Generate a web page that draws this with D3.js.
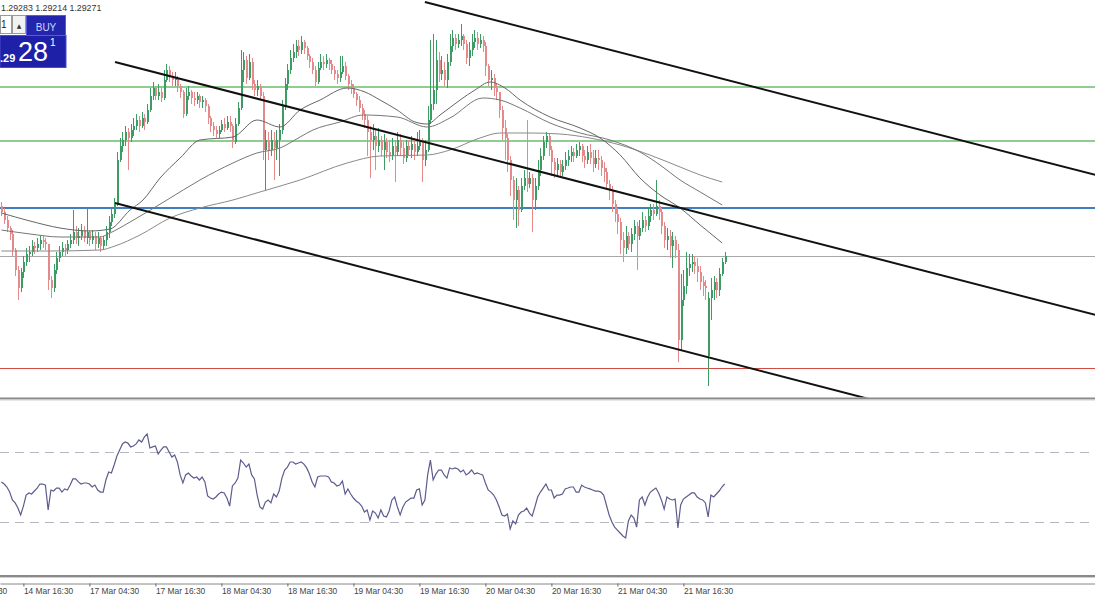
<!DOCTYPE html>
<html><head><meta charset="utf-8">
<script src="https://cdn.jsdelivr.net/npm/d3@7"></script>
<style>body{margin:0;background:#fff;}svg{display:block;}</style>
</head><body>
<svg id="c" width="1095" height="600"></svg>
<script>
// ---- data ----
const quote = ["1.29283", "1.29214", "1.29271"];
const firstOpen = 1.2957;
const openOverrides = [[257, 1.2882]];
const closes = [
1.2954,1.2950,1.2946,1.2943,1.2935,1.2925,1.2916,1.2924,1.2929,1.2933,
1.2934,1.2937,1.2936,1.2938,1.2940,1.2939,1.2938,1.2920,1.2916,1.2925,
1.2931,1.2934,1.2936,1.2935,1.2938,1.2940,1.2944,1.2941,1.2942,1.2945,
1.2941,1.2944,1.2940,1.2942,1.2938,1.2941,1.2937,1.2940,1.2944,1.2949,
1.2953,1.2958,1.2980,1.2987,1.2990,1.2994,1.2991,1.2995,1.2997,1.3000,
1.2997,1.3001,1.2999,1.3005,1.3012,1.3016,1.3012,1.3014,1.3011,1.3020,
1.3025,1.3022,1.3020,1.3021,1.3017,1.3014,1.3003,1.3012,1.3014,1.3011,
1.3010,1.3012,1.3009,1.3010,1.3007,1.3001,1.2997,1.2995,1.2993,1.2995,
1.2998,1.2996,1.2999,1.2997,1.2989,1.2998,1.3006,1.3025,1.3030,1.3021,
1.3029,1.3018,1.3015,1.3017,1.3012,1.2985,1.2990,1.2985,1.2990,1.2986,
1.2990,1.2995,1.3007,1.3018,1.3025,1.3031,1.3034,1.3037,1.3035,1.3039,
1.3036,1.3032,1.3029,1.3025,1.3019,1.3026,1.3029,1.3028,1.3030,1.3028,
1.3025,1.3023,1.3021,1.3024,1.3027,1.3022,1.3018,1.3016,1.3013,1.3010,
1.3006,1.3003,1.3000,1.2994,1.2990,1.2992,1.2987,1.2990,1.2985,1.2989,
1.2984,1.2982,1.2987,1.2984,1.2990,1.2986,1.2981,1.2987,1.2985,1.2988,
1.2984,1.2987,1.2990,1.2980,1.2985,1.3000,1.3008,1.3015,1.3030,1.3023,
1.3025,1.3020,1.3029,1.3037,1.3041,1.3038,1.3040,1.3042,1.3038,1.3031,
1.3035,1.3039,1.3041,1.3038,1.3040,1.3037,1.3027,1.3020,1.3021,1.3016,
1.3014,1.3005,1.2996,1.2991,1.2980,1.2970,1.2960,1.2965,1.2955,1.2967,
1.2971,1.2968,1.2971,1.2960,1.2967,1.2975,1.2982,1.2989,1.2992,1.2985,
1.2979,1.2975,1.2978,1.2974,1.2977,1.2980,1.2982,1.2984,1.2982,1.2985,
1.2987,1.2982,1.2980,1.2984,1.2981,1.2978,1.2981,1.2980,1.2976,1.2974,
1.2968,1.2965,1.2958,1.2953,1.2949,1.2940,1.2936,1.2942,1.2938,1.2943,
1.2947,1.2942,1.2946,1.2950,1.2947,1.2952,1.2955,1.2953,1.2957,1.2954,
1.2947,1.2940,1.2942,1.2937,1.2940,1.2935,1.2890,1.2910,1.2917,1.2926,
1.2928,1.2929,1.2927,1.2924,1.2919,1.2917,1.2916,1.2911,1.2915,1.2919,
1.2915,1.2923,1.2929,1.2932];
const highs = [
1.2959,1.2956,1.2952,1.2947,1.2945,1.2936,1.2927,1.2926,1.2932,1.2936,
1.2937,1.2940,1.2939,1.2941,1.2942,1.2942,1.2941,1.2938,1.2922,1.2928,
1.2934,1.2937,1.2939,1.2938,1.2940,1.2943,1.2955,1.2947,1.2946,1.2948,
1.2947,1.2956,1.2945,1.2945,1.2944,1.2944,1.2942,1.2942,1.2947,1.2952,
1.2956,1.2961,1.2984,1.2991,1.2994,1.2997,1.2996,1.2998,1.3001,1.3003,
1.3002,1.3004,1.3003,1.3008,1.3016,1.3019,1.3017,1.3018,1.3017,1.3025,
1.3028,1.3027,1.3024,1.3024,1.3022,1.3018,1.3015,1.3016,1.3017,1.3015,
1.3014,1.3014,1.3013,1.3012,1.3011,1.3008,1.3002,1.2999,1.2997,1.2997,
1.3000,1.3001,1.3002,1.3002,1.2998,1.3001,1.3009,1.3035,1.3034,1.3032,
1.3033,1.3031,1.3020,1.3020,1.3018,1.3014,1.2995,1.2994,1.2995,1.2994,
1.2995,1.2998,1.3010,1.3021,1.3028,1.3035,1.3038,1.3040,1.3040,1.3042,
1.3040,1.3037,1.3033,1.3031,1.3027,1.3029,1.3033,1.3032,1.3033,1.3031,
1.3030,1.3027,1.3025,1.3032,1.3032,1.3029,1.3023,1.3020,1.3018,1.3014,
1.3012,1.3008,1.3005,1.3002,1.2997,1.2998,1.2995,1.2996,1.2992,1.2993,
1.2991,1.2990,1.2991,1.2990,1.2994,1.2993,1.2989,1.2990,1.2990,1.2992,
1.2991,1.2994,1.2995,1.2991,1.2990,1.3007,1.3040,1.3043,1.3040,1.3034,
1.3032,1.3029,1.3033,1.3043,1.3045,1.3043,1.3043,1.3048,1.3043,1.3040,
1.3039,1.3043,1.3045,1.3044,1.3043,1.3042,1.3039,1.3028,1.3025,1.3023,
1.3018,1.3014,1.3007,1.3000,1.2993,1.2982,1.2972,1.2971,1.2967,1.2971,
1.2975,1.3000,1.2974,1.2973,1.2971,1.2980,1.2986,1.2992,1.2994,1.2993,
1.2987,1.2981,1.2981,1.2980,1.2980,1.2984,1.2985,1.2987,1.2986,1.2988,
1.2989,1.2988,1.2985,1.2987,1.2988,1.2985,1.2985,1.2985,1.2982,1.2979,
1.2976,1.2970,1.2967,1.2960,1.2956,1.2951,1.2944,1.2947,1.2944,1.2946,
1.2950,1.2949,1.2950,1.2954,1.2952,1.2956,1.2958,1.2958,1.2970,1.2960,
1.2956,1.2949,1.2946,1.2945,1.2944,1.2942,1.2938,1.2923,1.2925,1.2934,
1.2933,1.2933,1.2932,1.2931,1.2927,1.2922,1.2920,1.2914,1.2921,1.2922,
1.2921,1.2926,1.2931,1.2934];
const lows = [
1.2952,1.2948,1.2944,1.2940,1.2932,1.2922,1.2910,1.2914,1.2921,1.2927,
1.2929,1.2932,1.2933,1.2934,1.2935,1.2936,1.2935,1.2915,1.2911,1.2914,
1.2923,1.2929,1.2932,1.2932,1.2933,1.2936,1.2938,1.2938,1.2937,1.2940,
1.2939,1.2938,1.2937,1.2938,1.2935,1.2936,1.2934,1.2935,1.2937,1.2941,
1.2947,1.2951,1.2957,1.2979,1.2984,1.2987,1.2975,1.2989,1.2992,1.2995,
1.2994,1.2996,1.2995,1.2998,1.3004,1.3010,1.3010,1.3010,1.3009,1.3010,
1.3019,1.3019,1.3017,1.3017,1.3014,1.3011,1.3001,1.3002,1.3010,1.3008,
1.3007,1.3008,1.3006,1.3006,1.3004,1.2998,1.2994,1.2992,1.2991,1.2991,
1.2994,1.2994,1.2995,1.2994,1.2986,1.2988,1.2997,1.3005,1.3019,1.3018,
1.3020,1.3015,1.3012,1.3012,1.3010,1.2980,1.2965,1.2980,1.2982,1.2970,
1.2980,1.2972,1.2993,1.3005,1.3015,1.3023,1.3029,1.3031,1.3032,1.3033,
1.3033,1.3030,1.3026,1.3023,1.3017,1.3018,1.3025,1.3025,1.3026,1.3025,
1.3023,1.3020,1.3018,1.3019,1.3023,1.3020,1.3015,1.3013,1.3011,1.3007,
1.3004,1.3000,1.2996,1.2982,1.2971,1.2985,1.2975,1.2984,1.2982,1.2975,
1.2981,1.2979,1.2980,1.2969,1.2982,1.2982,1.2978,1.2979,1.2982,1.2981,
1.2980,1.2982,1.2985,1.2969,1.2977,1.2984,1.2998,1.3005,1.3008,1.3019,
1.3020,1.3017,1.3016,1.3027,1.3034,1.3035,1.3036,1.3037,1.3035,1.3028,
1.3027,1.3032,1.3036,1.3035,1.3036,1.3034,1.3022,1.3017,1.3015,1.3012,
1.3010,1.3001,1.2990,1.2980,1.2974,1.2962,1.2950,1.2946,1.2947,1.2954,
1.2965,1.2964,1.2966,1.2944,1.2955,1.2965,1.2972,1.2980,1.2986,1.2982,
1.2972,1.2971,1.2972,1.2971,1.2972,1.2975,1.2977,1.2979,1.2979,1.2981,
1.2982,1.2979,1.2976,1.2978,1.2978,1.2974,1.2976,1.2975,1.2972,1.2969,
1.2965,1.2960,1.2954,1.2949,1.2943,1.2933,1.2929,1.2933,1.2935,1.2934,
1.2940,1.2925,1.2940,1.2944,1.2944,1.2945,1.2949,1.2950,1.2952,1.2950,
1.2943,1.2936,1.2935,1.2931,1.2926,1.2931,1.2879,1.2885,1.2907,1.2913,
1.2922,1.2924,1.2923,1.2919,1.2915,1.2912,1.2910,1.2867,1.2900,1.2910,
1.2911,1.2912,1.2922,1.2928];
const rsiValues = [
52.9,51.7,50,47.1,42.6,40.9,38,34,39.1,45.4,
46.6,46,47.7,49.4,51.7,51.7,51.1,36.9,48.3,47.7,
49.4,49.4,47.1,48.9,48.3,51.1,54.6,54.6,52.9,51.7,
52.3,52.3,51.7,50,51.1,48.3,47.1,47.1,54,58.6,
58,62.6,67.7,71.1,74.6,75.7,75.1,72.9,73.4,74.6,
76.9,75.7,78.6,80.3,72.3,72.9,73.4,68.9,71.1,72.9,
72.9,70,67.1,68.3,64.3,56.9,52.3,56.9,58,56.3,
55.1,55.7,54,55.7,52.9,44.9,43.7,43.1,44.3,46,
47.1,46.6,43.7,39.1,50.6,52.3,55.1,65.4,63.7,61.4,
63.1,56.9,54.6,45.4,38.6,37.4,41.4,42.6,40.9,46,
44.3,47.7,55.1,59.7,61.4,64.3,64.3,63.1,63.7,64.3,
63.1,60.9,57.4,52.9,50,55.7,56.3,56.3,56.3,55.7,
52.9,52.3,50.6,51.1,53.4,46,48.9,46,43.7,42,
40.9,39.1,35.7,36.9,31.1,36.3,35.1,32.3,36.9,33.4,
32.9,36.3,42.6,44.3,38.6,34,38.6,41.4,42.6,43.7,
43.7,48.3,48.9,39.7,42.6,56.9,65.4,54,57.4,59.7,
59.7,56.9,55.1,60.9,60.3,60.9,60.3,58.6,59.7,56.9,
58,59.7,57.4,58,57.4,56.9,52.3,48.3,47.1,45.4,
42.6,38.6,34,33.4,34.6,26,30.6,28.9,34,35.7,
36.3,38,35.1,33.4,38.6,44.3,47.1,49.4,51.7,48.3,
48.3,43.7,45.4,45.4,46,48.9,49.4,50,50,47.1,
47.1,51.1,50,49.4,48.9,48.3,47.7,47.7,47.1,45.4,
39.7,34,30,27.1,25.4,23.7,22,20.9,30.6,34,
32.3,27.1,42.6,44.3,39.7,44.3,47.1,48.3,49.4,46.6,
42.6,37.4,44.3,43.1,42.6,43.1,26.6,39.7,43.1,44.3,
45.4,46.6,46.6,44.3,43.1,42.6,40.9,32.9,45.4,44.3,
46,47.7,50,51.7];
const rsiLevels = [70, 30];
// moving averages: [bar index, price]
const maFast = [[0,1.29535],[10.4,1.29495],[21.3,1.2946],[32.2,1.29445],[39.5,1.29455],[46.8,1.2955],[51.5,1.2960],[57.7,1.2971],[65,1.2981],[72.2,1.2990],[84.2,1.29915],[92.9,1.3000],[101.3,1.29965],[108.6,1.3005],[115.9,1.3010],[125.7,1.3016],[132.2,1.3014],[137.7,1.3010],[143.9,1.3005],[150.4,1.2999],[154.8,1.2998],[159.5,1.30025],[166.8,1.3010],[172.2,1.3015],[177.7,1.3019],[183.1,1.3016],[188.6,1.3010],[199.5,1.30015],[210.4,1.2996],[217.7,1.2991],[225,1.29825],[232.2,1.2971],[239.5,1.29625],[246.8,1.2956],[254.1,1.29475],[262.1,1.29385]];
const maMid = [[0,1.2945],[10.4,1.2943],[21.3,1.29415],[35.9,1.29415],[39.5,1.29435],[46.8,1.2949],[60.2,1.2960],[72.2,1.2970],[84.2,1.29785],[92.9,1.29835],[101.3,1.2986],[108.6,1.29915],[113.3,1.2995],[123.1,1.2999],[131.5,1.30025],[143.9,1.30015],[154.8,1.29965],[163.1,1.3001],[175.1,1.3011],[181.3,1.3010],[188.6,1.3006],[199.5,1.29985],[210.4,1.29935],[221.3,1.2990],[232.2,1.2984],[239.5,1.29775],[246.8,1.2970],[254.1,1.2964],[262.1,1.29575]];
const maSlow = [[0,1.29345],[17.7,1.29345],[35.9,1.2935],[41.3,1.2937],[50.4,1.29425],[61.3,1.2951],[72.2,1.2956],[84.2,1.2960],[94,1.2964],[108.6,1.2970],[125.7,1.29785],[137.7,1.2982],[154.8,1.29825],[163.1,1.2985],[174,1.2991],[181.3,1.29935],[192.2,1.29935],[203.1,1.2993],[214,1.2991],[225,1.29875],[235.8,1.29825],[246.8,1.29765],[254.1,1.29725],[262.1,1.2969]];
const greenLevels = [1.30165, 1.29895];
const blueLevel = 1.2956;
const redLevel = 1.2876;
// channel trend lines (rays): two anchors each [bar index, price]
const trendLines = [
  [[154, 1.3059], [264, 1.3020]],
  [[41.3, 1.3029], [264, 1.2950]],
  [[41.3, 1.29585], [264, 1.28789]]
];
const tickIndex = [-16, 8, 32, 56, 80, 104, 128, 152, 176, 200, 224, 248];
const tickLabels = ["14 Mar 04:30","14 Mar 16:30","17 Mar 04:30","17 Mar 16:30","18 Mar 04:30","18 Mar 16:30","19 Mar 04:30","19 Mar 16:30","20 Mar 04:30","20 Mar 16:30","21 Mar 04:30","21 Mar 16:30"];

// ---- drawing ----
const W = 1095;
const svg = d3.select("#c");
const x = d3.scaleLinear().domain([-0.51, 397.67]).range([0, W]);
const y = d3.scaleLinear().domain([1.2861, 1.3060]).range([398, 0]);
const yr = d3.scaleLinear().domain([0, 100]).range([574.5, 399.5]);

const defs = svg.append("defs");
defs.append("clipPath").attr("id", "cm").append("rect").attr("x", 0).attr("y", 0).attr("width", W).attr("height", 397.5);
defs.append("clipPath").attr("id", "cr").append("rect").attr("x", 0).attr("y", 401).attr("width", W).attr("height", 174);

svg.append("rect").attr("width", W).attr("height", 600).attr("fill", "#fff");

const bars = closes.map((c, i) => {
  let o = i === 0 ? firstOpen : closes[i - 1];
  const ov = openOverrides.find(d => d[0] === i);
  if (ov) o = ov[1];
  return { i, o, c, h: Math.max(highs[i], o, c), l: Math.min(lows[i], o, c) };
});

const main = svg.append("g").attr("clip-path", "url(#cm)");

// horizontal levels
main.selectAll("line.gl").data(greenLevels).join("line")
  .attr("x1", 0).attr("x2", W)
  .attr("y1", d => y(d)).attr("y2", d => y(d))
  .attr("stroke", "#6bbd6b").attr("stroke-width", 1.5);
main.append("line").attr("x1", 0).attr("x2", W)
  .attr("y1", y(blueLevel)).attr("y2", y(blueLevel))
  .attr("stroke", "#3f7fbf").attr("stroke-width", 2);
const last = closes[closes.length - 1];
main.append("line").attr("x1", 0).attr("x2", W)
  .attr("y1", Math.round(y(last)) + 0.5).attr("y2", Math.round(y(last)) + 0.5)
  .attr("stroke", "#a8a8a8").attr("stroke-width", 1);
main.append("line").attr("x1", 0).attr("x2", W)
  .attr("y1", Math.round(y(redLevel)) + 0.5).attr("y2", Math.round(y(redLevel)) + 0.5)
  .attr("stroke", "#d24b45").attr("stroke-width", 1.2);

// candles
const up = "#3c9c63", dn = "#e48a8a";
const cg = main.append("g");
cg.selectAll("line.w").data(bars).join("line")
  .attr("x1", d => Math.round(x(d.i)) + 0.5).attr("x2", d => Math.round(x(d.i)) + 0.5)
  .attr("y1", d => y(d.h)).attr("y2", d => y(d.l))
  .attr("stroke", d => d.c >= d.o ? up : dn).attr("stroke-width", 1);
cg.selectAll("rect.b").data(bars).join("rect")
  .attr("x", d => Math.round(x(d.i)))
  .attr("width", 2)
  .attr("y", d => y(Math.max(d.o, d.c)))
  .attr("height", d => Math.max(1, Math.abs(y(d.o) - y(d.c))))
  .attr("fill", d => d.c >= d.o ? up : dn);

// moving averages
const maLine = d3.line().x(d => x(d[0])).y(d => y(d[1])).curve(d3.curveMonotoneX);
[[maSlow, "#8a8a8a"], [maMid, "#777"], [maFast, "#666"]].forEach(([data, col]) => {
  main.append("path").attr("d", maLine(data)).attr("fill", "none")
    .attr("stroke", col).attr("stroke-width", 1);
});

// trend lines (rays to the right)
trendLines.forEach(([a, b]) => {
  const slope = (b[1] - a[1]) / (b[0] - a[0]);
  const endI = 400;
  main.append("line")
    .attr("x1", x(a[0])).attr("y1", y(a[1]))
    .attr("x2", x(endI)).attr("y2", y(a[1] + slope * (endI - a[0])))
    .attr("stroke", "#111").attr("stroke-width", 2);
});

// panel separators
svg.append("rect").attr("x", 0).attr("y", 397.5).attr("width", W).attr("height", 2).attr("fill", "#8a8a8a");
svg.append("rect").attr("x", 0).attr("y", 399.5).attr("width", W).attr("height", 1).attr("fill", "#cfcfcf");
svg.append("rect").attr("x", 0).attr("y", 575).attr("width", W).attr("height", 2).attr("fill", "#8a8a8a");
svg.append("rect").attr("x", 0).attr("y", 577).attr("width", W).attr("height", 1).attr("fill", "#cfcfcf");

// RSI
const rg = svg.append("g").attr("clip-path", "url(#cr)");
rg.selectAll("line.lv").data(rsiLevels).join("line")
  .attr("x1", 0).attr("x2", W)
  .attr("y1", d => Math.round(yr(d)) + 0.5).attr("y2", d => Math.round(yr(d)) + 0.5)
  .attr("stroke", "#b6b6c0").attr("stroke-width", 1).attr("stroke-dasharray", "9,6");
rg.append("path")
  .attr("d", d3.line().x((d, i) => x(i)).y(d => yr(d))(rsiValues))
  .attr("fill", "none").attr("stroke", "#5c5c8e").attr("stroke-width", 1.2);

// time axis
const axis = d3.axisBottom(x).tickValues(tickIndex)
  .tickFormat((d, k) => tickLabels[k]).tickSize(3).tickSizeOuter(0);
const ag = svg.append("g").attr("transform", "translate(0,583.5)").call(axis);
ag.select(".domain").attr("stroke", "#888");
ag.selectAll(".tick line").attr("stroke", "#666");
ag.selectAll(".tick text")
  .attr("text-anchor", "start").attr("x", 0).attr("y", 5)
  .attr("fill", "#444").style("font-family", "Liberation Sans, Arial, sans-serif").style("font-size", "8.4px");

// header quote text
svg.append("text").attr("x", 1).attr("y", 11)
  .attr("fill", "#333").style("font-family", "Liberation Sans, Arial, sans-serif").style("font-size", "8.8px")
  .text(quote.join(" "));

// one-click trading panel
const p = svg.append("g");
p.append("rect").attr("x", 0.5).attr("y", 15.5).attr("width", 11).attr("height", 18).attr("fill", "#fff").attr("stroke", "#9a9a9a");
p.append("text").attr("x", 1).attr("y", 28).attr("fill", "#222").style("font-family", "Liberation Sans, Arial").style("font-size", "10px").text("1");
p.append("rect").attr("x", 12.5).attr("y", 15.5).attr("width", 13).attr("height", 18).attr("fill", "#f2f2f2").attr("stroke", "#9a9a9a");
p.append("text").attr("x", 19).attr("y", 27.5).attr("text-anchor", "middle").attr("fill", "#333").style("font-family", "DejaVu Sans").style("font-size", "6px").text("▲");
p.append("rect").attr("x", 0).attr("y", 35.5).attr("width", 66).attr("height", 32).attr("fill", "#1f20a8").attr("stroke", "#4b4bc9");
p.append("rect").attr("x", 26.5).attr("y", 15.5).attr("width", 39).attr("height", 20).attr("fill", "#2326ad").attr("stroke", "#5a5ad6");
p.append("text").attr("x", 46).attr("y", 30.5).attr("text-anchor", "middle").attr("fill", "#cdd4ff").style("font-family", "Liberation Sans, Arial").style("font-size", "10px").text("BUY");
p.append("text").attr("x", 0).attr("y", 61.5).attr("fill", "#fff").style("font-family", "Liberation Sans, Arial").style("font-size", "11px").style("font-weight", "bold").text(".29");
p.append("text").attr("x", 18).attr("y", 60.5).attr("fill", "#fff").style("font-family", "Liberation Sans, Arial").style("font-size", "27px").text("28");
p.append("text").attr("x", 50).attr("y", 45.5).attr("fill", "#fff").style("font-family", "Liberation Sans, Arial").style("font-size", "10px").text("1");
</script>
</body></html>
